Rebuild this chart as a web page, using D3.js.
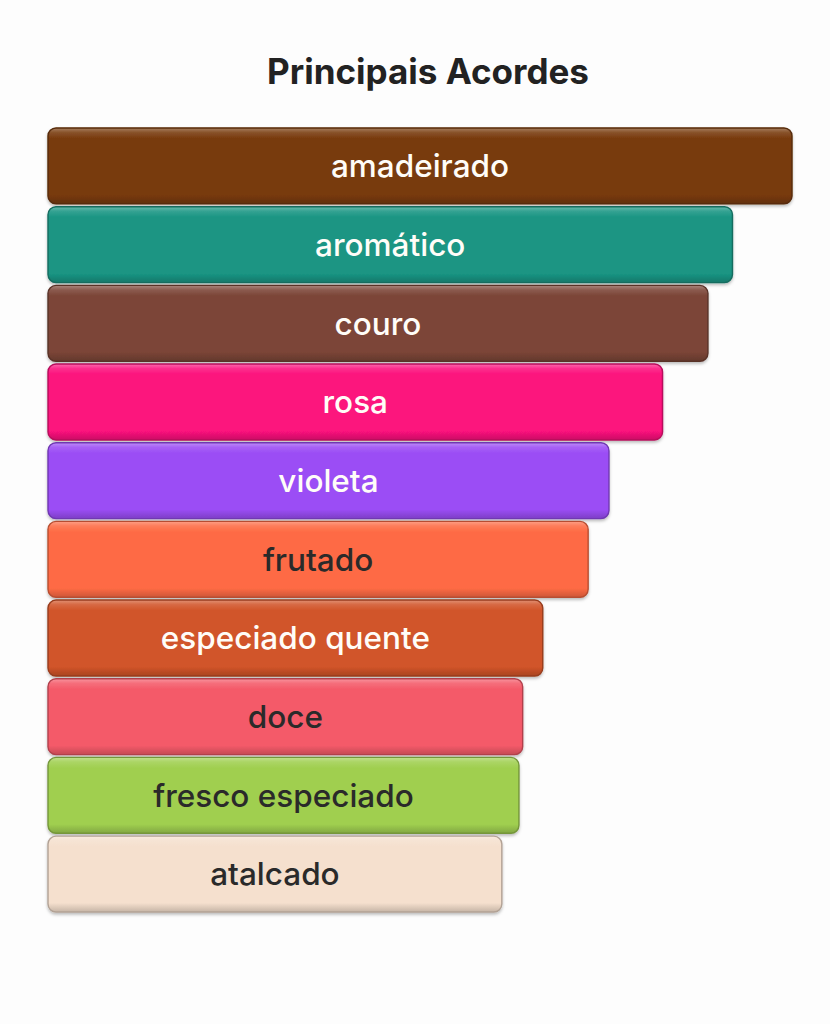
<!DOCTYPE html>
<html>
<head>
<meta charset="utf-8">
<script src="https://cdn.jsdelivr.net/npm/d3@7"></script>
<style>
  html, body { margin: 0; padding: 0; background: #fdfdfd; }
  svg { display: block; }
</style>
</head>
<body>
<svg id="chart" width="830" height="1024"></svg>
<script>
const title = "Principais Acordes";
const categories = ["amadeirado", "aromático", "couro", "rosa", "violeta", "frutado", "especiado quente", "doce", "fresco especiado", "atalcado"];
const values = [100, 92, 88.7, 82.6, 75.4, 72.6, 66.5, 63.8, 63.3, 61];
const colors = ["#783a0c", "#1a9583", "#7b4537", "#fc127d", "#9b4df5", "#fe6b44", "#d15429", "#f45a69", "#a0cf50", "#f5e0ce"];
const textColors = ["#fffdf8", "#fffdf8", "#fffdf8", "#fffdf8", "#fffdf8", "#2a2a2a", "#fffdf8", "#2a2a2a", "#2a2a2a", "#2a2a2a"];

const svg = d3.select("#chart");
const W = 830, H = 1024;
const margin = {left: 48, right: 38, top: 128, bottom: 112};

const x = d3.scaleLinear().domain([0, 100]).range([margin.left, 792]);
const y = d3.scaleBand().domain(categories).range([margin.top, H - margin.bottom]).paddingInner(0.035).paddingOuter(0);

const defs = svg.append("defs");
const f = defs.append("filter").attr("id", "shadow").attr("x", "-5%").attr("y", "-10%").attr("width", "110%").attr("height", "130%");
f.append("feDropShadow").attr("dx", 0).attr("dy", 2).attr("stdDeviation", 1.5).attr("flood-color", "#000").attr("flood-opacity", 0.25);

categories.forEach((c, i) => {
  const base = d3.color(colors[i]);
  const g = defs.append("linearGradient").attr("id", "grad" + i).attr("x1", 0).attr("y1", 0).attr("x2", 0).attr("y2", 1);
  g.append("stop").attr("offset", "0%").attr("stop-color", d3.interpolateRgb(colors[i], "#fff")(0.35));
  g.append("stop").attr("offset", "6%").attr("stop-color", d3.interpolateRgb(colors[i], "#fff")(0.12));
  g.append("stop").attr("offset", "14%").attr("stop-color", colors[i]);
  g.append("stop").attr("offset", "88%").attr("stop-color", colors[i]);
  g.append("stop").attr("offset", "100%").attr("stop-color", base.darker(0.6).formatHex());
});

svg.append("text")
  .attr("x", 428).attr("y", 84)
  .attr("text-anchor", "middle")
  .attr("font-family", "Inter, 'Noto Sans', sans-serif")
  .attr("font-weight", 700)
  .attr("font-size", 35)
  .attr("fill", "#222")
  .text(title);

const bars = svg.append("g").selectAll("g").data(categories).join("g");

bars.append("rect")
  .attr("x", x(0))
  .attr("y", d => y(d))
  .attr("width", (d, i) => x(values[i]) - x(0))
  .attr("height", y.bandwidth())
  .attr("rx", 8).attr("ry", 8)
  .attr("fill", (d, i) => `url(#grad${i})`)
  .attr("stroke", (d, i) => d3.color(colors[i]).darker(0.9).formatHex())
  .attr("stroke-width", 1.4)
  .attr("filter", "url(#shadow)");

bars.append("text")
  .attr("x", (d, i) => (x(0) + x(values[i])) / 2)
  .attr("y", d => y(d) + y.bandwidth() / 2)
  .attr("dy", "0.36em")
  .attr("text-anchor", "middle")
  .attr("font-family", "Inter, 'Noto Sans', sans-serif")
  .attr("font-weight", 500)
  .attr("font-size", 31.5)
  .attr("fill", (d, i) => textColors[i])
  .text(d => d);
</script>
</body>
</html>
